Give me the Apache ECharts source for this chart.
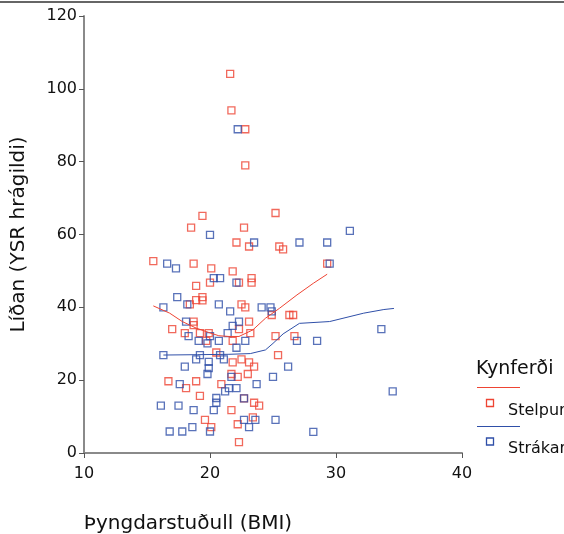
<!DOCTYPE html>
<html>
<head>
<meta charset="utf-8">
<script src="https://cdn.jsdelivr.net/npm/echarts@6/dist/echarts.min.js"></script>
<style>html,body{margin:0;padding:0;background:#fff}#c{width:564px;height:534px}</style>
</head>
<body>
<div id="c"></div>
<script>
// Stelpur (girls)
const stelpurBMI = [21.6,21.7,22.8,22.8,19.4,25.2,18.5,22.7,22.1,23.1,25.5,25.8,15.5,18.7,20.1,21.8,20.0,22.3,23.3,23.3,18.9,19.4,19.4,18.9,18.4,22.5,22.8,24.9,26.3,26.6,29.3,18.7,18.7,23.1,22.3,17.0,18.0,19.2,19.9,23.2,25.2,26.7,19.7,21.8,20.5,25.4,21.8,22.5,23.1,23.5,21.7,22.2,23.0,16.7,18.1,18.9,20.9,19.2,22.7,23.5,23.9,21.7,19.6,20.1,23.4,22.2,22.3];
const stelpurYSR = [104.1,94.1,88.9,79.0,65.1,65.9,61.9,61.9,57.8,56.7,56.7,55.9,52.7,52.0,50.7,49.9,46.8,46.8,48.0,46.8,45.9,42.8,41.9,42.0,40.8,40.8,40.0,37.9,37.9,37.9,52.0,36.1,35.1,36.1,34.0,34.0,32.9,32.9,32.9,32.9,32.1,32.1,30.8,30.8,27.6,26.9,24.9,25.7,24.9,23.7,21.7,20.9,21.7,19.7,17.8,19.7,18.9,15.7,15.0,13.8,13.0,11.8,9.1,7.1,9.8,7.9,3.0];
// Strákar (boys)
const strakarBMI = [22.2,20.0,23.5,27.1,29.3,31.1,29.5,16.6,17.3,20.3,20.8,22.1,17.4,18.2,16.3,20.7,21.6,24.1,24.8,24.9,18.1,22.3,21.8,18.3,20.0,21.4,19.1,19.8,20.7,22.8,22.1,16.3,19.2,20.8,18.9,19.9,19.9,19.8,21.1,18.0,26.2,21.7,25.0,17.6,21.5,22.1,21.2,23.7,20.5,20.5,22.7,16.1,17.5,18.7,20.3,22.7,23.6,25.2,18.6,17.8,16.8,20.0,23.1,33.6,34.5,28.2,28.5,26.9];
const strakarYSR = [88.9,59.9,57.8,57.8,57.8,61.0,52.0,52.0,50.7,48.0,48.0,46.8,42.8,40.8,40.0,40.8,38.9,40.0,40.0,38.9,36.1,36.1,34.9,32.1,32.1,32.9,30.8,30.1,30.8,30.8,28.9,26.9,26.9,26.9,25.7,25.0,23.3,21.7,25.7,23.7,23.7,20.9,20.9,18.9,17.8,17.8,16.9,18.9,15.1,13.8,15.0,13.0,13.0,11.8,11.8,9.1,9.1,9.1,7.1,5.9,5.9,5.9,7.1,34.0,16.9,5.8,30.8,30.8];
// Fit lines (loess)
const fitStelpurX = [15.5,16.8,17.8,18.9,19.9,20.7,21.5,22.3,23.4,24.4,25.5,26.9,28.2,29.3];
const fitStelpurY = [40.4,38.4,36.1,34.3,33.1,32.2,32.0,32.0,33.8,37.0,39.7,43.4,46.6,49.1];
const fitStrakarX = [16.3,19.0,21.5,23.2,24.4,25.0,25.8,27.1,29.5,32.2,33.8,34.6];
const fitStrakarY = [26.9,27.0,27.1,27.3,28.3,30.1,32.7,35.6,36.1,38.4,39.4,39.7];
const xTicks = [10,20,30,40];
const yTicks = [0,20,40,60,80,100,120];
const legendTitle = 'Kynferði';
const legendNames = ['Stelpur','Strákar'];

const RED = '#ee4433', BLUE = '#2f4fa8';
const FONT = 'DejaVu Sans';
const zip = (a,b) => a.map((v,i)=>[v,b[i]]);

function legendGraphic(){
  const g = [
    {type:'text',left:476,top:360,style:{text:legendTitle,font:'19px "DejaVu Sans"',fill:'#111'}},
    {type:'line',shape:{x1:477,y1:387.5,x2:520,y2:387.5},style:{stroke:RED,lineWidth:1}},
    {type:'line',shape:{x1:477,y1:426.5,x2:520,y2:426.5},style:{stroke:BLUE,lineWidth:1}}
  ];
  const cols=[RED,BLUE], sqY=[403,441.5], txY=[410.5,448.5];
  legendNames.forEach((n,i)=>{
    g.push({type:'rect',shape:{x:486.5,y:sqY[i]-3.5,width:7,height:7},style:{fill:'none',stroke:cols[i],lineWidth:1.3}});
    g.push({type:'text',x:508,y:txY[i],style:{text:n,font:'16px "DejaVu Sans"',fill:'#111',verticalAlign:'middle',align:'left'}});
  });
  return g;
}

const chart = echarts.init(document.getElementById('c'));
chart.setOption({
  animation:false,
  grid:{left:84,right:102,top:16,bottom:81,containLabel:false,outerBoundsMode:'none'},
  xAxis:{type:'value',min:xTicks[0],max:xTicks[xTicks.length-1],interval:10,
    name:'Þyngdarstuðull (BMI)',nameLocation:'middle',nameGap:61,
    nameTextStyle:{fontFamily:FONT,fontSize:20,color:'#111',padding:[0,170,0,0]},
    axisLine:{lineStyle:{color:'#8a8a8a',width:2}},
    axisTick:{length:5,lineStyle:{color:'#555',width:1}},
    axisLabel:{fontFamily:FONT,fontSize:16,color:'#111',margin:13},
    splitLine:{show:false}},
  yAxis:{type:'value',min:yTicks[0],max:yTicks[yTicks.length-1],interval:20,
    name:'Líðan (YSR hrágildi)',nameLocation:'middle',nameGap:55,
    nameTextStyle:{fontFamily:FONT,fontSize:20,color:'#111'},
    axisLine:{lineStyle:{color:'#8a8a8a',width:2}},
    axisTick:{length:5,lineStyle:{color:'#555',width:1}},
    axisLabel:{fontFamily:FONT,fontSize:16,color:'#111',margin:7,padding:[4,0,0,0]},
    splitLine:{show:false}},
  graphic:[
    {type:'line',shape:{x1:0,y1:2,x2:564,y2:2},style:{stroke:'#666',lineWidth:2}}
  ].concat(legendGraphic()),
  series:[
    {name:'Stelpur',type:'scatter',symbol:'rect',symbolSize:7,data:zip(stelpurBMI,stelpurYSR),
      itemStyle:{color:'rgba(255,255,255,0)',borderColor:RED,borderWidth:1.3}},
    {name:'Strákar',type:'scatter',symbol:'rect',symbolSize:7,data:zip(strakarBMI,strakarYSR),
      itemStyle:{color:'rgba(255,255,255,0)',borderColor:BLUE,borderWidth:1.3}},
    {name:'fitS',type:'line',showSymbol:false,data:zip(fitStelpurX,fitStelpurY),
      lineStyle:{color:RED,width:1},silent:true},
    {name:'fitB',type:'line',showSymbol:false,data:zip(fitStrakarX,fitStrakarY),
      lineStyle:{color:BLUE,width:1},silent:true}
  ]
});
</script>
</body>
</html>
